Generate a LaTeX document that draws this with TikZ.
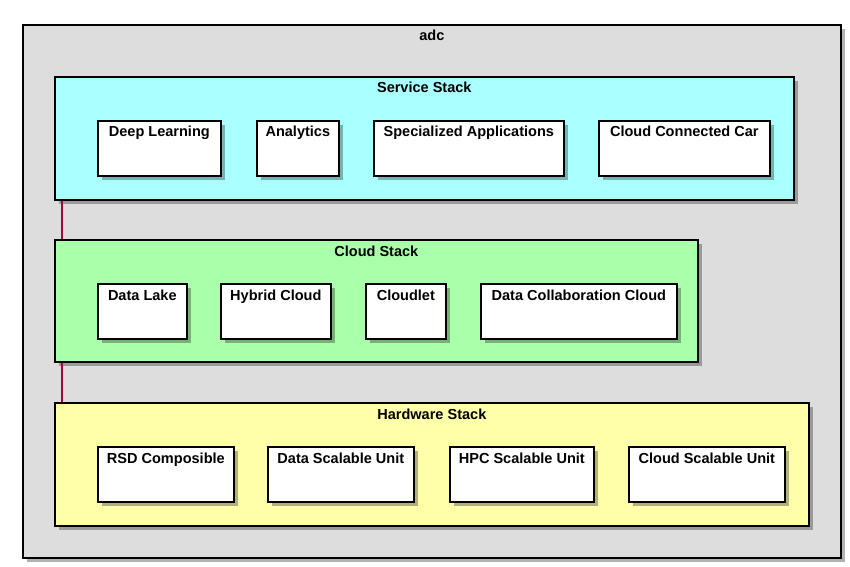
\documentclass[tikz,border=0pt]{standalone}
\usepackage{fontspec}
\setmainfont{Liberation Sans}
\usetikzlibrary{shadows}
\definecolor{outerfill}{HTML}{DDDDDD}
\definecolor{svcfill}{HTML}{AAFFFF}
\definecolor{cldfill}{HTML}{AAFFAA}
\definecolor{hwfill}{HTML}{FFFFAA}
\definecolor{linkred}{HTML}{A80036}
\tikzset{
  frame/.style={draw=black, line width=1.25pt, anchor=north west, inner sep=0pt,
    drop shadow={shadow xshift=3pt, shadow yshift=-3pt, fill=black, opacity=0.3}},
  ttl/.style={anchor=base, font=\bfseries\fontsize{10.9pt}{12pt}\selectfont, inner sep=0pt},
  link/.style={draw=linkred, line width=0.8pt},
}
\newcommand\pbox[7]{%
  \node[frame, fill=#6, minimum width={(#4-#2)*0.75pt}, minimum height={(#5-#3)*0.75pt}] (#1) at (#2,#3) {};
  \node[ttl] (#1-t) at ([yshift=-12.75pt]#1.north) {#7};
}
\begin{document}
\begin{tikzpicture}[x=0.75pt, y=-0.75pt]
\useasboundingbox (0,0) rectangle (850,567);
\pbox{adc}{22}{24}{840}{557}{outerfill}{adc}
% Service stack
\pbox{svc}{54}{76}{793}{199}{svcfill}{Service Stack}
\pbox{dl}{97}{120}{220}{175}{white}{Deep Learning}
\pbox{an}{256}{120}{338}{175}{white}{Analytics}
\pbox{sa}{373}{120}{563}{175}{white}{Specialized Applications}
\pbox{ccc}{598}{120}{769}{175}{white}{Cloud Connected Car}
% Cloud stack
\pbox{cld}{54}{239}{697}{361}{cldfill}{Cloud Stack}
\pbox{lake}{97}{283}{186}{338}{white}{Data Lake}
\pbox{hyb}{220}{283}{330}{338}{white}{Hybrid Cloud}
\pbox{clet}{365}{283}{445}{338}{white}{Cloudlet}
\pbox{dcc}{480}{283}{676}{338}{white}{Data Collaboration Cloud}
% Hardware stack
\pbox{hw}{54}{402}{808}{525}{hwfill}{Hardware Stack}
\pbox{rsd}{97}{446}{233}{501}{white}{RSD Composible}
\pbox{dsu}{267}{446}{413}{501}{white}{Data Scalable Unit}
\pbox{hpc}{449}{446}{593}{501}{white}{HPC Scalable Unit}
\pbox{csu}{628}{446}{784}{501}{white}{Cloud Scalable Unit}
% connectors
\draw[link] ([xshift=6pt]svc.south west) -- ([xshift=6pt]cld.north west);
\draw[link] ([xshift=6pt]cld.south west) -- ([xshift=6pt]hw.north west);
\end{tikzpicture}
\end{document}
